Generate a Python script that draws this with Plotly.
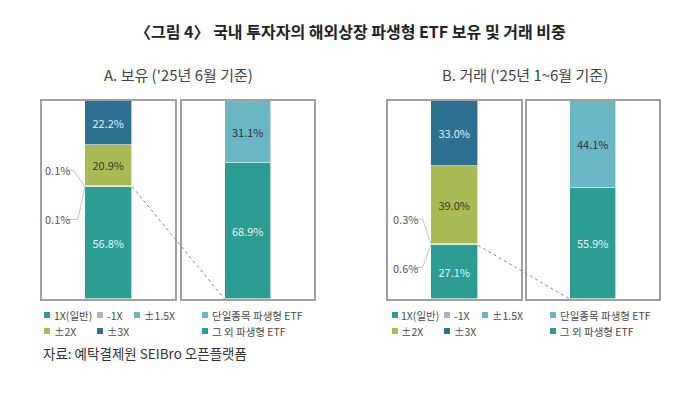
import plotly.graph_objects as go

# ---------------- data ----------------
lev_names = ["1X(일반)", "-1X", "±1.5X", "±2X", "±3X"]
lev_colors = ["#2b9d93", "#b4b4b4", "#6ab6c5", "#a9bb55", "#2d7090"]
lev_text_colors = ["#e6f3f1", "#333333", "#333333", "#3a3a2a", "#e3edf3"]
hold_lev = [56.8, 0.1, 0.1, 20.9, 22.2]
trade_lev = [27.1, 0.6, 0.3, 39.0, 33.0]

type_names = ["그 외 파생형 ETF", "단일종목 파생형 ETF"]
type_colors = ["#2b9d93", "#6ab6c5"]
type_text_colors = ["#e6f3f1", "#333333"]
hold_type = [68.9, 31.1]
trade_type = [55.9, 44.1]

title = "〈그림 4〉 국내 투자자의 해외상장 파생형 ETF 보유 및 거래 비중"
sub_a = "A. 보유 ('25년 6월 기준)"
sub_b = "B. 거래 ('25년 1~6월 기준)"
source = "자료: 예탁결제원 SEIBro 오픈플랫폼"

# ---------------- layout helpers ----------------
OFF = 8              # default page margin of the browser
W, H = 700 - 2 * OFF, 395 - 2 * OFF
FONT = "Noto Sans CJK KR"


def px(x):
    return (x - OFF) / W


def py(y):
    return 1 - (y - OFF) / H


BAR_X = 0.5
BAR_W = 0.355
ydom = [py(299), py(101)]
boxes = [(42, 175), (182, 314), (388, 521), (527, 659)]

fig = go.Figure()

panels = [
    (hold_lev, lev_colors, lev_text_colors, 1),
    (hold_type, type_colors, type_text_colors, 2),
    (trade_lev, lev_colors, lev_text_colors, 3),
    (trade_type, type_colors, type_text_colors, 4),
]

for vals, cols, tcols, k in panels:
    xa = "x" if k == 1 else f"x{k}"
    ya = "y" if k == 1 else f"y{k}"
    for v, c, tc in zip(vals, cols, tcols):
        fig.add_trace(go.Bar(
            x=[BAR_X], y=[v], width=[BAR_W],
            marker=dict(color=c, line=dict(color="white", width=0.6)),
            text=[f"{v:.1f}%" if v >= 5 else ""],
            textposition="inside", insidetextanchor="middle", textangle=0,
            textfont=dict(family=FONT, size=11, color=tc),
            hoverinfo="skip", showlegend=False,
            xaxis=xa, yaxis=ya,
        ))

for k, (x0, x1) in enumerate(boxes, start=1):
    xk = "xaxis" if k == 1 else f"xaxis{k}"
    yk = "yaxis" if k == 1 else f"yaxis{k}"
    fig.layout[xk] = dict(domain=[px(x0), px(x1)], range=[0, 1], showgrid=False,
                          zeroline=False, showticklabels=False, ticks="",
                          showline=True, mirror=True, linecolor="#a0a0a0", linewidth=1.5,
                          anchor="y" if k == 1 else f"y{k}", fixedrange=True)
    fig.layout[yk] = dict(domain=ydom, range=[0, 100], showgrid=False,
                          zeroline=False, showticklabels=False, ticks="",
                          showline=True, mirror=True, linecolor="#a0a0a0", linewidth=1.5,
                          anchor="x" if k == 1 else f"x{k}", fixedrange=True)

# ---------------- small-segment leader labels ----------------
leaders = [
    # (values, subplot, label x, upper offset, lower offset, elbow_up, elbow_low)
    (hold_lev, 1, 0.117, 8.2, -16.6, 0.233, 0.27),
    (trade_lev, 3, 0.128, 12.4, -11.2, 0.26, 0.26),
]
ann = []
for vals, k, lx, up, lo, eu, el in leaders:
    xa = "x" if k == 1 else f"x{k}"
    ya = "y" if k == 1 else f"y{k}"
    base = vals[0]
    mid_m1 = base + vals[1] / 2
    mid_15 = base + vals[1] + vals[2] / 2
    bound = base + vals[1] + vals[2]
    edge = BAR_X - BAR_W / 2
    ty_up = bound + up
    ty_lo = base + lo
    tx_end = lx + 0.07
    fig.add_trace(go.Scatter(x=[tx_end, eu, edge], y=[ty_up, ty_up, mid_15], mode="lines",
                             line=dict(color="#c4c4c4", width=1), hoverinfo="skip",
                             showlegend=False, xaxis=xa, yaxis=ya))
    fig.add_trace(go.Scatter(x=[tx_end, el, edge], y=[ty_lo, ty_lo, mid_m1], mode="lines",
                             line=dict(color="#c4c4c4", width=1), hoverinfo="skip",
                             showlegend=False, xaxis=xa, yaxis=ya))
    ann.append(dict(x=lx, y=ty_up, xref=xa, yref=ya, text=f"{vals[2]:.1f}%", showarrow=False,
                    font=dict(family=FONT, size=11, color="#555555"), xanchor="center", yanchor="middle"))
    ann.append(dict(x=lx, y=ty_lo, xref=xa, yref=ya, text=f"{vals[1]:.1f}%", showarrow=False,
                    font=dict(family=FONT, size=11, color="#555555"), xanchor="center", yanchor="middle"))

# ---------------- dotted connectors ----------------
shapes = []
for vals, (b1, b2) in [(hold_lev, (boxes[0], boxes[1])), (trade_lev, (boxes[2], boxes[3]))]:
    d1 = (px(b1[0]), px(b1[1]))
    d2 = (px(b2[0]), px(b2[1]))
    xs = d1[0] + (BAR_X + BAR_W / 2) * (d1[1] - d1[0])
    ys = ydom[0] + vals[0] / 100 * (ydom[1] - ydom[0])
    xe = d2[0] + (BAR_X - BAR_W / 2) * (d2[1] - d2[0])
    ye = ydom[0]
    shapes.append(dict(type="line", xref="paper", yref="paper", x0=xs, y0=ys, x1=xe, y1=ye,
                       line=dict(color="#8a8a8a", width=1, dash="dot")))

# ---------------- legends ----------------
legend_rows = [
    # left group
    [(lev_names[0], lev_colors[0], 44, 315), (lev_names[1], lev_colors[1], 97, 315),
     (lev_names[2], lev_colors[2], 134, 315), (type_names[1], type_colors[1], 202, 315),
     (lev_names[3], lev_colors[3], 44, 331), (lev_names[4], lev_colors[4], 97, 331),
     (type_names[0], type_colors[0], 202, 331)],
    # right group
    [(lev_names[0], lev_colors[0], 392, 315), (lev_names[1], lev_colors[1], 444, 315),
     (lev_names[2], lev_colors[2], 482, 315), (type_names[1], type_colors[1], 550, 315),
     (lev_names[3], lev_colors[3], 392, 331), (lev_names[4], lev_colors[4], 444, 331),
     (type_names[0], type_colors[0], 550, 331)],
]
for row in legend_rows:
    for name, col, x, y in row:
        shapes.append(dict(type="rect", xref="paper", yref="paper",
                           x0=px(x), x1=px(x + 6), y0=py(y + 3), y1=py(y - 3),
                           fillcolor=col, line=dict(width=0)))
        ann.append(dict(x=px(x + 7.5), y=py(y), xref="paper", yref="paper", text=name,
                        showarrow=False, xanchor="left", yanchor="middle",
                        font=dict(family=FONT, size=10.5, color="#4a4a4a")))

# ---------------- titles ----------------
ann.append(dict(x=px(350), y=py(31), xref="paper", yref="paper", text=f"<b>{title}</b>",
                showarrow=False, xanchor="center", yanchor="middle",
                font=dict(family=FONT, size=16, color="#222222")))
ann.append(dict(x=px(178), y=py(75), xref="paper", yref="paper", text=sub_a,
                showarrow=False, xanchor="center", yanchor="middle",
                font=dict(family=FONT, size=15, color="#444444")))
ann.append(dict(x=px(525), y=py(75), xref="paper", yref="paper", text=sub_b,
                showarrow=False, xanchor="center", yanchor="middle",
                font=dict(family=FONT, size=15, color="#444444")))
ann.append(dict(x=px(41), y=py(353), xref="paper", yref="paper", text=source,
                showarrow=False, xanchor="left", yanchor="middle",
                font=dict(family=FONT, size=13.5, color="#333333")))

fig.update_layout(
    width=W, height=H, margin=dict(l=0, r=0, t=0, b=0),
    barmode="stack", bargap=0,
    paper_bgcolor="white", plot_bgcolor="white",
    annotations=ann, shapes=shapes, showlegend=False,
    font=dict(family=FONT),
)

fig.write_html("out.html", config=dict(displayModeBar=False))
